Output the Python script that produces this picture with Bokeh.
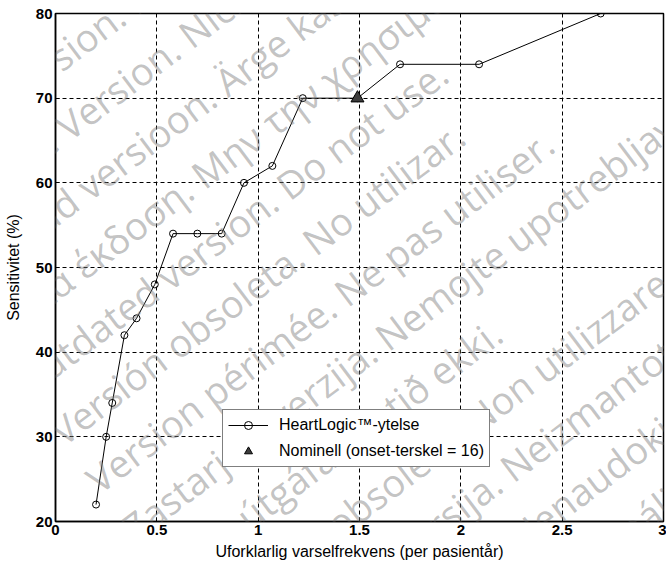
import math
from bokeh.plotting import figure
from bokeh.models import Range1d, FixedTicker, Legend, LegendItem, Label
from bokeh.embed import file_html
from bokeh.resources import INLINE

# ---- data ----
rate = [0.20, 0.25, 0.28, 0.34, 0.40, 0.49, 0.58, 0.70, 0.82, 0.93, 1.07, 1.22, 1.49, 1.70, 2.09, 2.69]
sens = [22, 30, 34, 42, 44, 48, 54, 54, 54, 60, 62, 70, 70, 74, 74, 80]
nominal_rate = [1.49]
nominal_sens = [70]
x_ticks = [0, 0.5, 1, 1.5, 2, 2.5, 3]
x_tick_labels = ["0", "0.5", "1", "1.5", "2", "2.5", "3"]
y_ticks = [20, 30, 40, 50, 60, 70, 80]
series_label = "HeartLogic\u2122-ytelse"
nominal_label = "Nominell (onset-terskel = 16)"
x_title = "Uforklarlig varselfrekvens (per pasient\u00e5r)"
y_title = "Sensitivitet (%)"

# watermark lines of the source document (first one is index -5)
watermark_lines = [
    "Zastaralá verze. Nepoužívat.",
    "Forældet version. Må ikke anvendes.",
    "Überholte Version. Nicht verwenden.",
    "Aegunud versioon. Ärge kasutage.",
    "Παλιά έκδοση. Μην την χρησιμοποιείτε.",
    "Outdated version. Do not use.",
    "Versión obsoleta. No utilizar.",
    "Version périmée. Ne pas utiliser.",
    "Zastarjela verzija. Nemojte upotrebljavati.",
    "Úrelt útgáfa. Notið ekki.",
    "Versione obsoleta. Non utilizzare.",
    "Novecojusi versija. Neizmantot.",
    "Pasenusi versija. Nenaudokite.",
    "Elavult verzió. Ne használja!",
]

FONT = "Liberation Sans"
W, H = 666, 562
BL, BR, BT, BB = 55, 3, 13, 41

p = figure(width=W, height=H, output_backend="svg", toolbar_location=None,
           x_range=Range1d(0, 3), y_range=Range1d(20, 80),
           min_border_left=BL, min_border_right=BR, min_border_top=BT, min_border_bottom=BB)
p.background_fill_color = "white"
p.border_fill_color = "white"
p.outline_line_color = "black"
p.outline_line_width = 1.5

for ax in (p.xaxis[0], p.yaxis[0]):
    ax.axis_line_color = "black"
    ax.axis_line_width = 1.5
    ax.major_tick_line_color = "black"
    ax.major_tick_in = 4
    ax.major_tick_out = 0
    ax.minor_tick_line_color = None
    ax.major_label_text_font = FONT
    ax.major_label_text_font_size = "15px"
    ax.major_label_text_font_style = "bold"
    ax.major_label_text_color = "black"
    ax.axis_label_text_font = FONT
    ax.axis_label_text_font_size = "16px"
    ax.axis_label_text_font_style = "normal"
    ax.axis_label_text_color = "black"

p.xaxis.ticker = FixedTicker(ticks=x_ticks)
p.xaxis.major_label_overrides = {t: l for t, l in zip(x_ticks, x_tick_labels)}
p.yaxis.ticker = FixedTicker(ticks=y_ticks)
p.xaxis.axis_label = x_title
p.yaxis.axis_label = y_title
p.xaxis.major_label_standoff = 3
p.yaxis.major_label_standoff = 3
p.xaxis.axis_label_standoff = 5
p.yaxis.axis_label_standoff = 11

for g in (p.xgrid[0], p.ygrid[0]):
    g.grid_line_color = "black"
    g.grid_line_width = 1
    g.grid_line_dash = "4 3"

line_r = p.line(rate, sens, line_color="black", line_width=1)
circ_r = p.scatter(rate, sens, marker="circle", size=7, fill_color=None,
                   line_color="black", line_width=1)
tri_r = p.scatter(nominal_rate, nominal_sens, marker="triangle", size=13,
                  fill_color="#3c3c3c", line_color="black", line_width=1)

legend = Legend(items=[LegendItem(label=series_label, renderers=[line_r, circ_r]),
                       LegendItem(label=nominal_label, renderers=[tri_r])],
                location=(167, 54))
legend.label_text_font = FONT
legend.label_text_font_size = "16px"
legend.label_text_color = "black"
legend.border_line_color = "black"
legend.border_line_width = 1
legend.background_fill_color = "white"
legend.background_fill_alpha = 1
legend.padding = 5
legend.margin = 0
legend.spacing = 6
legend.glyph_width = 40
legend.glyph_height = 20
legend.label_height = 20
legend.label_standoff = 11
p.add_layout(legend, "center")

# ---- watermark (diagonal, semi-transparent grey) ----
frame_w = W - BL - BR
frame_h = H - BT - BB
def px_to_data(px, py):
    return (px - BL) * 3.0 / frame_w, 80 - (py - BT) * 60.0 / frame_h

ang = math.radians(37)
step = 60.0
start_x, start_y = 18.0, 387.0          # start of the English line, screen px
nx, ny = math.sin(ang), math.cos(ang)   # perpendicular direction (screen, y down)
for i, txt in enumerate(watermark_lines):
    k = i - 5
    sx = start_x + k * step * nx
    sy = start_y + k * step * ny
    dx, dy = px_to_data(sx, sy)
    p.add_layout(Label(x=dx, y=dy, text=txt, angle=ang, angle_units="rad",
                       text_font="Open Sans", text_font_size="38px",
                       text_color="#7a7a7a", text_alpha=0.45, level="overlay",
                       text_align="left", text_baseline="alphabetic"))

open("out.html", "w").write(file_html(p, INLINE))
